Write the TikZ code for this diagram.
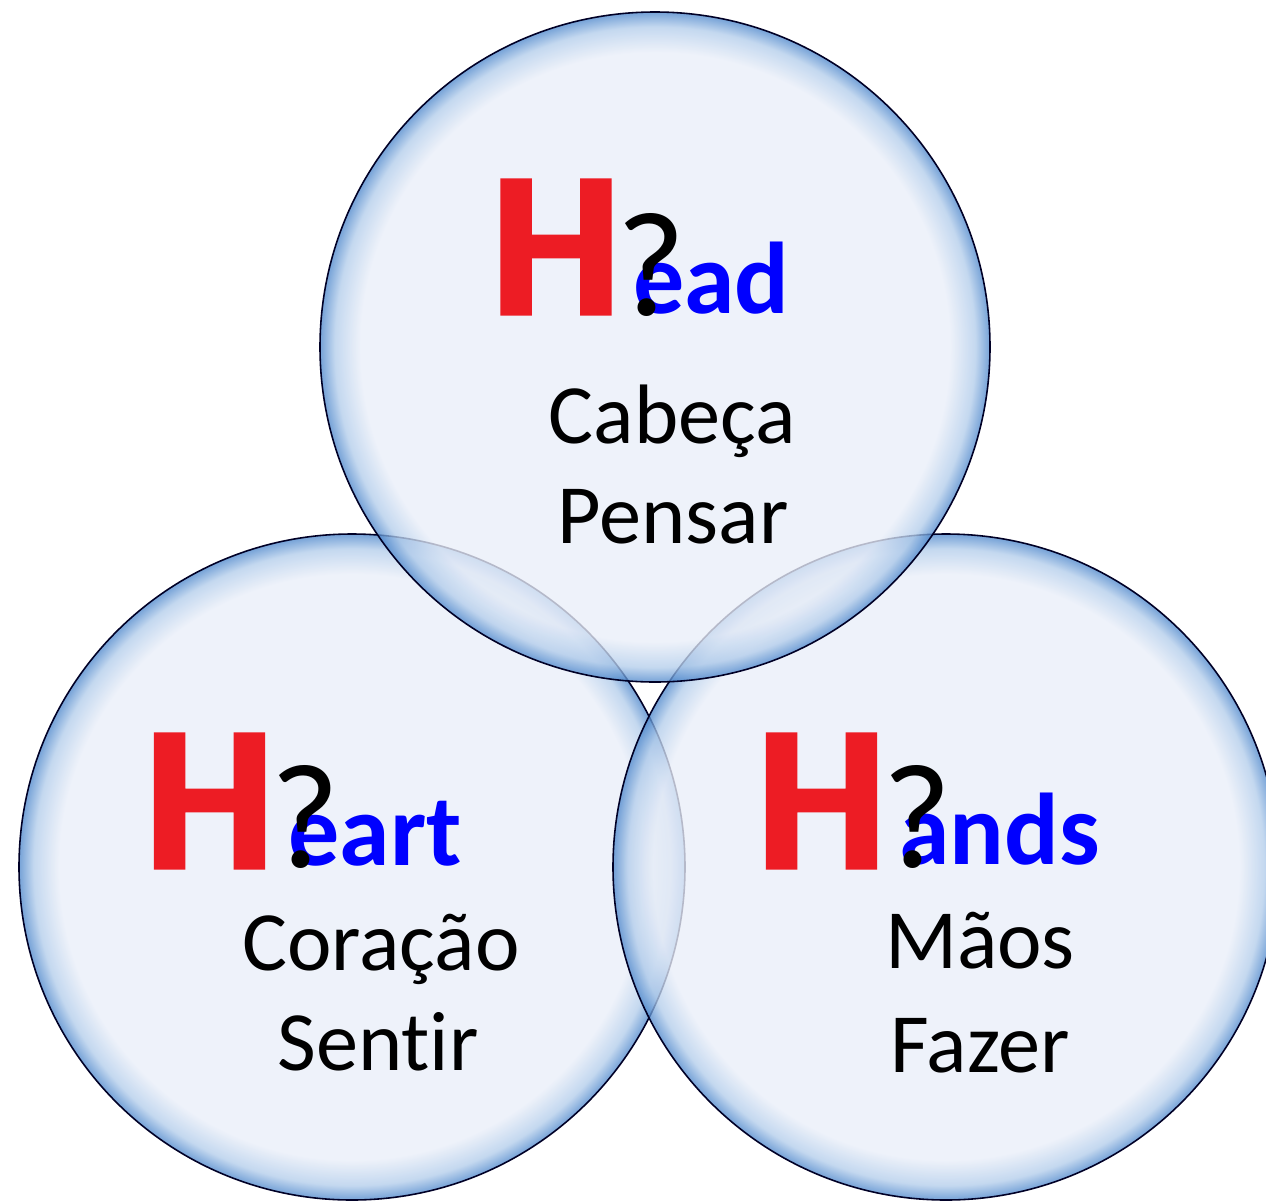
\documentclass[tikz,border=0pt]{standalone}
\usepackage{fontspec}
\setmainfont{Carlito}[Ligatures=NoCommon]
\newfontfamily\Hfont{Carlito}[BoldFeatures={FakeBold=2.5}]
\definecolor{bubin}{HTML}{E9EEF8}
\definecolor{bubmid}{HTML}{B3CDEB}
\definecolor{bubedge}{HTML}{4F88CC}
\definecolor{hred}{HTML}{ED1C24}
\definecolor{hblue}{HTML}{0000FF}
\pgfdeclareradialshading{bubble}{\pgfpoint{0bp}{0bp}}{color(0bp)=(bubin); color(22.0bp)=(bubin); color(23.9bp)=(bubmid); color(25bp)=(bubedge); color(50bp)=(bubedge)}
\tikzset{
  bubblecirc/.style={circle, inner sep=0pt, outer sep=0pt, shading=bubble, fill opacity=0.78, draw=black!85!blue, draw opacity=1, line width=0.9pt},
  bigH/.style={anchor=base, inner sep=0pt, text=hred, font=\Hfont\fontsize{116}{116}\selectfont\bfseries},
  qmark/.style={anchor=base, inner sep=0pt, text=black, font=\fontsize{85}{85}\selectfont},
  rest/.style={anchor=base, inner sep=0pt, text=hblue, font=\fontsize{58}{58}\selectfont\bfseries},
  word/.style={anchor=base, inner sep=0pt, text=black, font=\fontsize{48}{48}\selectfont}
}
\begin{document}
\begin{tikzpicture}
\useasboundingbox (0,0) rectangle (25.32,-24.04);
\clip (0,0) rectangle (25.32,-24.04);
\node[bubblecirc, minimum size=13.32cm] (heartc) at (7.04,-17.34) {};
\node[bubblecirc, minimum size=13.32cm] (handsc) at (18.92,-17.34) {};
\node[bubblecirc, minimum size=13.4cm] (headc) at (13.1,-6.94) {};
% Head
\node[bigH] (headH) at (11.12,-6.26) {H};
\node[rest] (headR) at (14.23,-6.26) {ead};
\node[qmark] (headQ) at (13.03,-6.30) {?};
\node[word] (cabeca) at (13.45,-8.86) {Cabeça};
\node[word] (pensar) at (13.46,-10.86) {Pensar};
% Heart
\node[bigH] (heartH) at (4.19,-17.34) {H};
\node[rest] (heartR) at (7.50,-17.30) {eart};
\node[qmark] (heartQ) at (6.10,-17.34) {?};
\node[word] (coracao) at (7.62,-19.40) {Coração};
\node[word] (sentir) at (7.56,-21.40) {Sentir};
% Hands
\node[bigH] (handsH) at (16.43,-17.34) {H};
\node[rest] (handsR) at (19.99,-17.28) {ands};
\node[qmark] (handsQ) at (18.35,-17.34) {?};
\node[word] (maos) at (19.60,-19.36) {Mãos};
\node[word] (fazer) at (19.60,-21.44) {Fazer};
\end{tikzpicture}
\end{document}
